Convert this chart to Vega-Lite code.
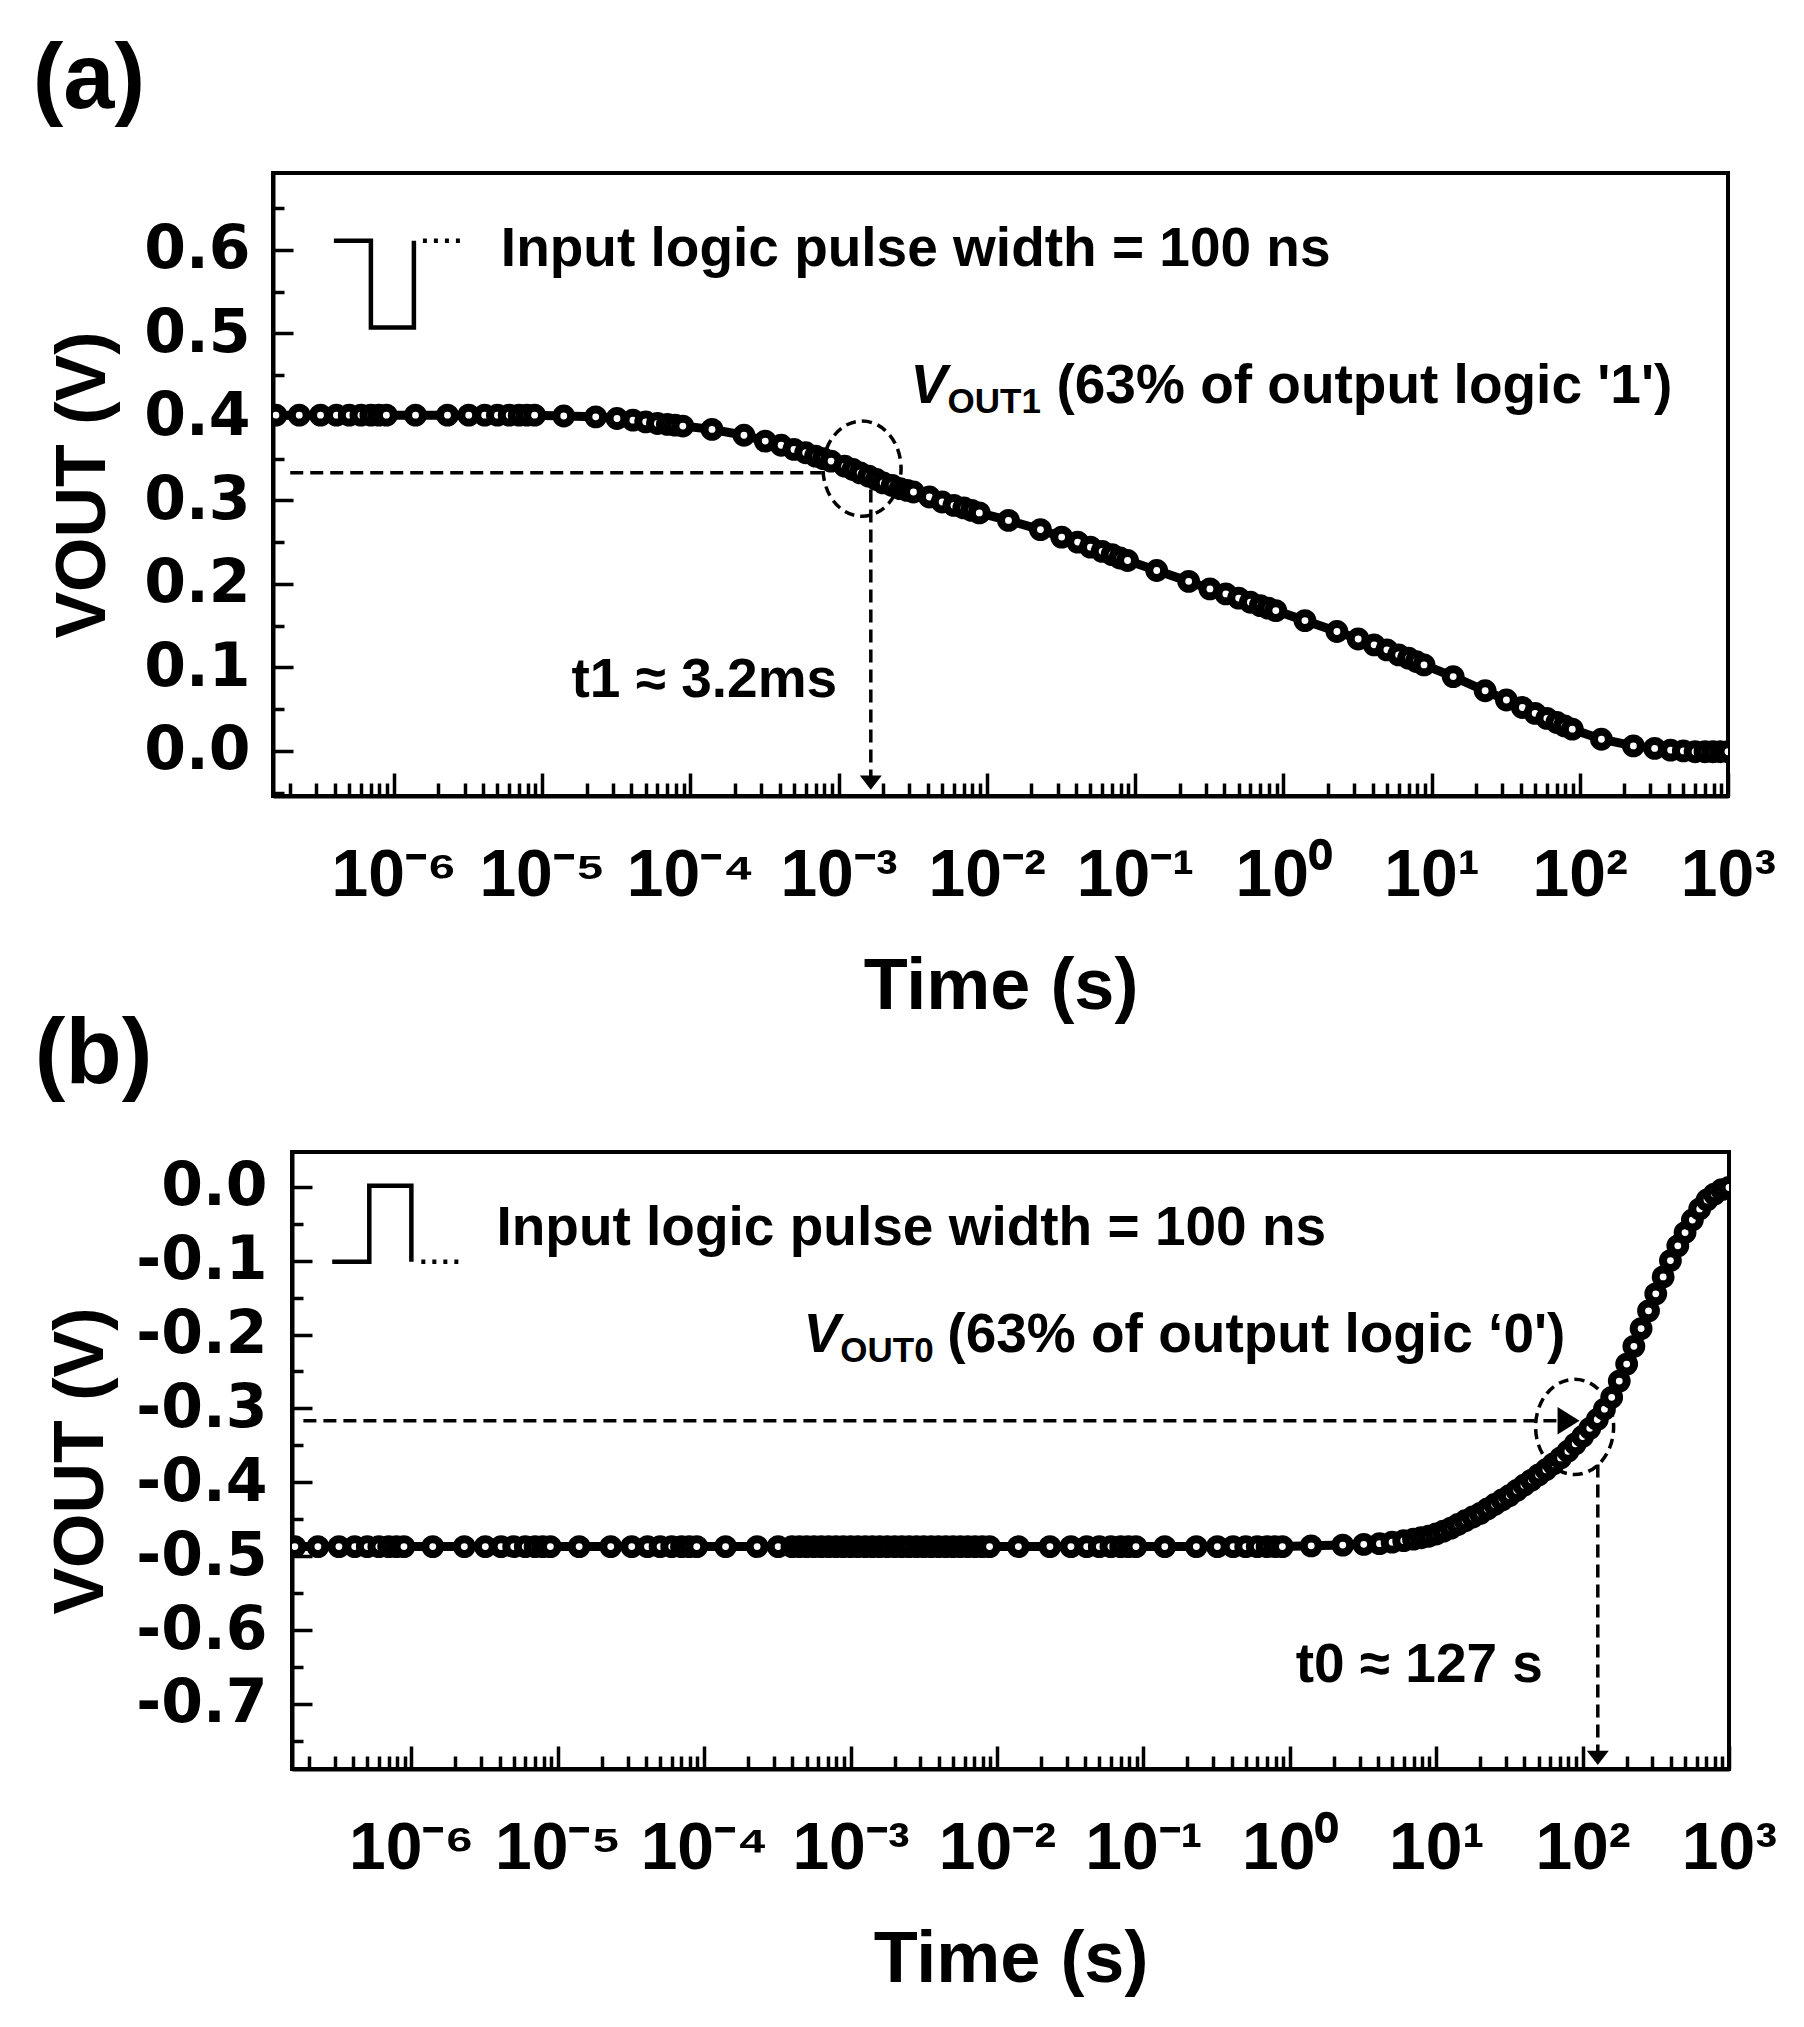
{
  "$schema": "https://vega.github.io/schema/vega-lite/v6.json",
  "background": "white",
  "padding": {"left": 23, "top": 32, "right": 5, "bottom": 5},
  "config": {
    "view": {"stroke": "black", "strokeWidth": 4},
    "font": "Liberation Sans",
    "axis": {
      "grid": false,
      "domainColor": "black",
      "domainWidth": 4,
      "tickColor": "black",
      "tickWidth": 3.5,
      "labelColor": "black",
      "labelFont": "DejaVu Sans",
      "labelFontWeight": "bold",
      "titleColor": "black",
      "titleFont": "Liberation Sans",
      "titleFontWeight": "bold",
      "labelOverlap": false,
      "labelFlush": false
    }
  },
  "datasets": {
    "curveA": [
      {"t": 1.6e-7, "v": 0.402}, {"t": 2.3e-7, "v": 0.402}, {"t": 3.2e-7, "v": 0.402}, {"t": 4.1e-7, "v": 0.402}, {"t": 5e-7, "v": 0.402}, {"t": 6e-7, "v": 0.402}, {"t": 7e-7, "v": 0.402}, {"t": 7.9e-7, "v": 0.402}, {"t": 8.9e-7, "v": 0.402},
      {"t": 1.4e-6, "v": 0.402}, {"t": 2.3e-6, "v": 0.402}, {"t": 3.2e-6, "v": 0.402}, {"t": 4.1e-6, "v": 0.402}, {"t": 5e-6, "v": 0.402}, {"t": 6e-6, "v": 0.402}, {"t": 7e-6, "v": 0.402}, {"t": 7.9e-6, "v": 0.402}, {"t": 8.9e-6, "v": 0.402},
      {"t": 1.4e-5, "v": 0.401}, {"t": 2.3e-5, "v": 0.4}, {"t": 3.2e-5, "v": 0.398}, {"t": 4.1e-5, "v": 0.396}, {"t": 5e-5, "v": 0.394}, {"t": 6e-5, "v": 0.392}, {"t": 7e-5, "v": 0.391}, {"t": 7.9e-5, "v": 0.39}, {"t": 8.9e-5, "v": 0.389},
      {"t": 1.4e-4, "v": 0.385}, {"t": 2.3e-4, "v": 0.378}, {"t": 3.2e-4, "v": 0.371}, {"t": 4.1e-4, "v": 0.366}, {"t": 5e-4, "v": 0.361}, {"t": 6e-4, "v": 0.357}, {"t": 7e-4, "v": 0.353}, {"t": 7.9e-4, "v": 0.35}, {"t": 8.9e-4, "v": 0.347},
      {"t": 1.1e-3, "v": 0.341}, {"t": 1.25e-3, "v": 0.337}, {"t": 1.4e-3, "v": 0.333}, {"t": 1.6e-3, "v": 0.329}, {"t": 1.8e-3, "v": 0.325}, {"t": 2.0e-3, "v": 0.321}, {"t": 2.3e-3, "v": 0.318}, {"t": 2.6e-3, "v": 0.314}, {"t": 2.9e-3, "v": 0.312}, {"t": 3.2e-3, "v": 0.31}, {"t": 4.1e-3, "v": 0.304}, {"t": 5e-3, "v": 0.298}, {"t": 6e-3, "v": 0.294}, {"t": 7e-3, "v": 0.291}, {"t": 7.9e-3, "v": 0.288}, {"t": 8.9e-3, "v": 0.285},
      {"t": 0.014, "v": 0.276}, {"t": 0.023, "v": 0.265}, {"t": 0.032, "v": 0.256}, {"t": 0.041, "v": 0.25}, {"t": 0.05, "v": 0.244}, {"t": 0.06, "v": 0.239}, {"t": 0.07, "v": 0.235}, {"t": 0.079, "v": 0.231}, {"t": 0.089, "v": 0.228},
      {"t": 0.14, "v": 0.216}, {"t": 0.23, "v": 0.203}, {"t": 0.32, "v": 0.194}, {"t": 0.41, "v": 0.188}, {"t": 0.5, "v": 0.183}, {"t": 0.6, "v": 0.178}, {"t": 0.7, "v": 0.174}, {"t": 0.79, "v": 0.171}, {"t": 0.89, "v": 0.168},
      {"t": 1.4, "v": 0.156}, {"t": 2.3, "v": 0.143}, {"t": 3.2, "v": 0.134}, {"t": 4.1, "v": 0.127}, {"t": 5, "v": 0.121}, {"t": 6, "v": 0.115}, {"t": 7, "v": 0.111}, {"t": 7.9, "v": 0.107}, {"t": 8.9, "v": 0.103},
      {"t": 14, "v": 0.089}, {"t": 23, "v": 0.072}, {"t": 32, "v": 0.061}, {"t": 41, "v": 0.052}, {"t": 50, "v": 0.045}, {"t": 60, "v": 0.039}, {"t": 70, "v": 0.034}, {"t": 79, "v": 0.03}, {"t": 89, "v": 0.026},
      {"t": 140, "v": 0.014}, {"t": 230, "v": 0.006}, {"t": 320, "v": 0.003}, {"t": 410, "v": 0.001}, {"t": 500, "v": 0.0}, {"t": 600, "v": -0.001}, {"t": 700, "v": -0.001}, {"t": 790, "v": -0.001}, {"t": 890, "v": -0.001}, {"t": 1000, "v": -0.001}
    ],
    "curveB": [
      {"t": 1.6e-7, "v": -0.487}, {"t": 2.3e-7, "v": -0.487}, {"t": 3.2e-7, "v": -0.487}, {"t": 4.1e-7, "v": -0.487}, {"t": 5e-7, "v": -0.487}, {"t": 6e-7, "v": -0.487}, {"t": 7e-7, "v": -0.487}, {"t": 7.9e-7, "v": -0.487}, {"t": 8.9e-7, "v": -0.487},
      {"t": 1.4e-6, "v": -0.487}, {"t": 2.3e-6, "v": -0.487}, {"t": 3.2e-6, "v": -0.487}, {"t": 4.1e-6, "v": -0.487}, {"t": 5e-6, "v": -0.487}, {"t": 6e-6, "v": -0.487}, {"t": 7e-6, "v": -0.487}, {"t": 7.9e-6, "v": -0.487}, {"t": 8.9e-6, "v": -0.487},
      {"t": 1.4e-5, "v": -0.487}, {"t": 2.3e-5, "v": -0.487}, {"t": 3.2e-5, "v": -0.487}, {"t": 4.1e-5, "v": -0.487}, {"t": 5e-5, "v": -0.487}, {"t": 6e-5, "v": -0.487}, {"t": 7e-5, "v": -0.487}, {"t": 7.9e-5, "v": -0.487}, {"t": 8.9e-5, "v": -0.487},
      {"t": 1.4e-4, "v": -0.487}, {"t": 2.3e-4, "v": -0.487}, {"t": 3.2e-4, "v": -0.487}, {"t": 3.98e-4, "v": -0.487}, {"t": 4.47e-4, "v": -0.487}, {"t": 5.01e-4, "v": -0.487}, {"t": 5.62e-4, "v": -0.487}, {"t": 6.31e-4, "v": -0.487}, {"t": 7.08e-4, "v": -0.487}, {"t": 7.94e-4, "v": -0.487}, {"t": 8.91e-4, "v": -0.487},
      {"t": 1.0e-3, "v": -0.487}, {"t": 1.12e-3, "v": -0.487}, {"t": 1.26e-3, "v": -0.487}, {"t": 1.41e-3, "v": -0.487}, {"t": 1.58e-3, "v": -0.487}, {"t": 1.78e-3, "v": -0.487}, {"t": 2.0e-3, "v": -0.487}, {"t": 2.24e-3, "v": -0.487}, {"t": 2.51e-3, "v": -0.487}, {"t": 2.82e-3, "v": -0.487}, {"t": 3.16e-3, "v": -0.487}, {"t": 3.55e-3, "v": -0.487}, {"t": 3.98e-3, "v": -0.487}, {"t": 4.47e-3, "v": -0.487}, {"t": 5.01e-3, "v": -0.487}, {"t": 5.62e-3, "v": -0.487}, {"t": 6.31e-3, "v": -0.487}, {"t": 7.08e-3, "v": -0.487}, {"t": 7.94e-3, "v": -0.487}, {"t": 8.9e-3, "v": -0.487},
      {"t": 0.014, "v": -0.487}, {"t": 0.023, "v": -0.487}, {"t": 0.032, "v": -0.487}, {"t": 0.041, "v": -0.487}, {"t": 0.05, "v": -0.487}, {"t": 0.06, "v": -0.487}, {"t": 0.07, "v": -0.487}, {"t": 0.079, "v": -0.487}, {"t": 0.089, "v": -0.487},
      {"t": 0.14, "v": -0.487}, {"t": 0.23, "v": -0.487}, {"t": 0.32, "v": -0.487}, {"t": 0.41, "v": -0.487}, {"t": 0.5, "v": -0.487}, {"t": 0.6, "v": -0.487}, {"t": 0.7, "v": -0.487}, {"t": 0.79, "v": -0.487}, {"t": 0.89, "v": -0.487},
      {"t": 1.4, "v": -0.486}, {"t": 2.3, "v": -0.485}, {"t": 3.2, "v": -0.484}, {"t": 4.1, "v": -0.483}, {"t": 5, "v": -0.481}, {"t": 6, "v": -0.479}, {"t": 7, "v": -0.477}, {"t": 7.9, "v": -0.475}, {"t": 8.9, "v": -0.473},
      {"t": 10, "v": -0.47}, {"t": 11.2, "v": -0.466}, {"t": 12.6, "v": -0.462}, {"t": 14.1, "v": -0.457}, {"t": 15.8, "v": -0.452}, {"t": 17.8, "v": -0.447}, {"t": 20, "v": -0.442}, {"t": 22.4, "v": -0.436}, {"t": 25.1, "v": -0.43}, {"t": 28.2, "v": -0.424}, {"t": 31.6, "v": -0.418}, {"t": 35.5, "v": -0.411}, {"t": 39.8, "v": -0.404}, {"t": 44.7, "v": -0.397}, {"t": 50.1, "v": -0.39}, {"t": 56.2, "v": -0.383}, {"t": 63.1, "v": -0.375}, {"t": 70.8, "v": -0.367}, {"t": 79.4, "v": -0.358}, {"t": 89.1, "v": -0.348},
      {"t": 100, "v": -0.338}, {"t": 112, "v": -0.327}, {"t": 126, "v": -0.315}, {"t": 141, "v": -0.301}, {"t": 158, "v": -0.285}, {"t": 178, "v": -0.263}, {"t": 200, "v": -0.24}, {"t": 224, "v": -0.216}, {"t": 251, "v": -0.192}, {"t": 282, "v": -0.168}, {"t": 316, "v": -0.145}, {"t": 355, "v": -0.122}, {"t": 398, "v": -0.1}, {"t": 447, "v": -0.08}, {"t": 501, "v": -0.062}, {"t": 562, "v": -0.045}, {"t": 631, "v": -0.03}, {"t": 708, "v": -0.018}, {"t": 794, "v": -0.01}, {"t": 891, "v": -0.004}, {"t": 1000, "v": -0.001}
    ],
    "pulseA": [{"i": 1, "t": 3.94e-7, "v": 0.611}, {"i": 2, "t": 7.0e-7, "v": 0.611}, {"i": 3, "t": 7.0e-7, "v": 0.507}, {"i": 4, "t": 1.365e-6, "v": 0.507}, {"i": 5, "t": 1.365e-6, "v": 0.611}],
    "dotsA": [{"t": 1.57e-6, "v": 0.611}, {"t": 3.05e-6, "v": 0.611}],
    "pulseB": [{"i": 1, "t": 2.88e-7, "v": -0.1015}, {"i": 2, "t": 5.16e-7, "v": -0.1015}, {"i": 3, "t": 5.16e-7, "v": 0.0014}, {"i": 4, "t": 1.0e-6, "v": 0.0014}, {"i": 5, "t": 1.0e-6, "v": -0.1015}],
    "dotsB": [{"t": 1.17e-6, "v": -0.1015}, {"t": 2.3e-6, "v": -0.1015}],
    "hlineA": [{"t": 2.0e-7, "t2": 7.7e-4, "v": 0.333}],
    "vlineA": [{"t": 1.65e-3, "v": 0.313, "v2": -0.032}],
    "headA": [{"t": 1.65e-3, "v": -0.038}],
    "ringA": [{"t": 1.44e-3, "v": 0.338}],
    "hlineB": [{"t": 1.83e-7, "t2": 78, "v": -0.3166}],
    "headBh": [{"t": 80.2, "v": -0.3166}],
    "vlineB": [{"t": 127, "v": -0.376, "v2": -0.765}],
    "headBv": [{"t": 127, "v": -0.773}],
    "ringB": [{"t": 88.2, "v": -0.325}],
    "textA": [
      {"t": 5.27e-6, "v": 0.581, "label": "Input logic pulse width = 100 ns"},
      {"t": 0.0295, "v": 0.417, "label": "(63% of output logic '1')"},
      {"t": 1.58e-5, "v": 0.064, "label": "t1 ≈ 3.2ms"}
    ],
    "vA": [{"t": 3.06e-3, "v": 0.417, "label": "V"}],
    "subA": [{"t": 5.43e-3, "v": 0.405, "label": "OUT1"}],
    "textB": [
      {"t": 3.81e-6, "v": -0.0785, "label": "Input logic pulse width = 100 ns"},
      {"t": 4.58e-3, "v": -0.2233, "label": "(63% of output logic ‘0')"},
      {"t": 1.097, "v": -0.67, "label": "t0 ≈ 127 s"}
    ],
    "vB": [{"t": 4.76e-4, "v": -0.2233, "label": "V"}],
    "subB": [{"t": 8.51e-4, "v": -0.237, "label": "OUT0"}]
  },
  "vconcat": [
    {
      "spacing": 0,
      "hconcat": [
        {"width": 1, "height": 1, "view": {"stroke": null}, "data": {"values": [{"s": 0}]}, "mark": {"type": "point", "opacity": 0}},
        {
          "title": {"text": "(a)", "anchor": "start", "frame": "bounds", "fontSize": 92, "fontWeight": "bold", "font": "Liberation Sans", "color": "black", "offset": 46, "dx": -16},
          "width": 1455,
          "height": 623,
          "encoding": {
            "x": {"field": "t", "type": "quantitative",
              "scale": {"type": "log", "domain": [1.53e-7, 1000], "nice": false},
              "axis": {
                "title": "Time (s)", "titleFontSize": 72, "titlePadding": 33,
                "values": [2e-7,3e-7,4e-7,5e-7,6e-7,7e-7,8e-7,9e-7,1e-6,2e-6,3e-6,4e-6,5e-6,6e-6,7e-6,8e-6,9e-6,1e-5,2e-5,3e-5,4e-5,5e-5,6e-5,7e-5,8e-5,9e-5,0.0001,0.0002,0.0003,0.0004,0.0005,0.0006,0.0007,0.0008,0.0009,0.001,0.002,0.003,0.004,0.005,0.006,0.007,0.008,0.009,0.01,0.02,0.03,0.04,0.05,0.06,0.07,0.08,0.09,0.1,0.2,0.3,0.4,0.5,0.6,0.7,0.8,0.9,1,2,3,4,5,6,7,8,9,10,20,30,40,50,60,70,80,90,100,200,300,400,500,600,700,800,900,1000],
                "labelExpr": "abs(log(datum.value)/LN10 - round(log(datum.value)/LN10)) < 0.01 ? '10' + (round(log(datum.value)/LN10) < 0 ? '⁻' : '') + ['⁰','¹','²','³','⁴','⁵','⁶','⁷','⁸','⁹'][abs(round(log(datum.value)/LN10))] : ''",
                "tickSize": {"condition": {"test": "abs(log(datum.value)/LN10 - round(log(datum.value)/LN10)) < 0.01", "value": -23}, "value": -13},
                "labelPadding": 70, "labelFontSize": 66, "labelFont": "Liberation Sans"
              }
            },
            "y": {"field": "v", "type": "quantitative",
              "scale": {"domain": [-0.054, 0.692], "nice": false, "zero": false},
              "axis": {
                "title": "VOUT (V)", "titleFontSize": 70, "titlePadding": 24,
                "values": [-0.05, 0, 0.05, 0.1, 0.15, 0.2, 0.25, 0.3, 0.35, 0.4, 0.45, 0.5, 0.55, 0.6, 0.65],
                "labelExpr": "abs(datum.value*10 - round(datum.value*10)) < 0.01 ? replace(format(datum.value, '.1f'), '−', '-') : ''",
                "tickSize": {"condition": {"test": "abs(datum.value*10 - round(datum.value*10)) < 0.01", "value": -20}, "value": -11},
                "labelPadding": 43, "labelFontSize": 60
              }
            }
          },
          "layer": [
            {"data": {"name": "curveA"}, "mark": {"type": "line", "color": "black", "strokeWidth": 9, "clip": true}},
            {"data": {"name": "curveA"}, "mark": {"type": "point", "shape": "circle", "filled": true, "fill": "white", "stroke": "black", "strokeWidth": 8, "size": 220, "opacity": 1, "clip": true}},
            {"data": {"name": "pulseA"}, "mark": {"type": "line", "color": "black", "strokeWidth": 4.5}, "encoding": {"order": {"field": "i", "type": "quantitative"}}},
            {"data": {"name": "dotsA"}, "mark": {"type": "line", "color": "black", "strokeWidth": 4.5, "strokeDash": [4, 7]}},
            {"data": {"name": "hlineA"}, "mark": {"type": "rule", "color": "black", "strokeWidth": 3.5, "strokeDash": [13, 7]}, "encoding": {"x2": {"field": "t2"}}},
            {"data": {"name": "vlineA"}, "mark": {"type": "rule", "color": "black", "strokeWidth": 3.5, "strokeDash": [13, 7]}, "encoding": {"y2": {"field": "v2"}}},
            {"data": {"name": "headA"}, "mark": {"type": "point", "shape": "M0,0.65L1,-0.65L-1,-0.65Z", "filled": true, "color": "black", "size": 480, "opacity": 1}},
            {"data": {"name": "ringA"}, "mark": {"type": "point", "shape": "M0,-1.22A1,1.22,0,1,1,0,1.22A1,1.22,0,1,1,0,-1.22Z", "filled": false, "stroke": "black", "strokeWidth": 3.5, "strokeDash": [10, 6], "size": 6084, "opacity": 1}},
            {"data": {"name": "textA"}, "mark": {"type": "text", "align": "left", "baseline": "alphabetic", "font": "Liberation Sans", "fontWeight": "bold", "fontSize": 55, "color": "black"}, "encoding": {"text": {"field": "label"}}},
            {"data": {"name": "vA"}, "mark": {"type": "text", "align": "left", "baseline": "alphabetic", "font": "Liberation Sans", "fontWeight": "bold", "fontStyle": "italic", "fontSize": 55, "color": "black"}, "encoding": {"text": {"field": "label"}}},
            {"data": {"name": "subA"}, "mark": {"type": "text", "align": "left", "baseline": "alphabetic", "font": "Liberation Sans", "fontWeight": "bold", "fontSize": 35, "color": "black"}, "encoding": {"text": {"field": "label"}}}
          ]
        }
      ]
    },
    {
      "spacing": 0,
      "hconcat": [
        {"width": 5, "height": 1, "view": {"stroke": null}, "data": {"values": [{"s": 0}]}, "mark": {"type": "point", "opacity": 0}},
        {
          "title": {"text": "(b)", "anchor": "start", "frame": "bounds", "fontSize": 92, "fontWeight": "bold", "font": "Liberation Sans", "color": "black", "offset": 50, "dx": -12},
          "width": 1437,
          "height": 617,
          "encoding": {
            "x": {"field": "t", "type": "quantitative",
              "scale": {"type": "log", "domain": [1.53e-7, 1000], "nice": false},
              "axis": {
                "title": "Time (s)", "titleFontSize": 72, "titlePadding": 33,
                "values": [2e-7,3e-7,4e-7,5e-7,6e-7,7e-7,8e-7,9e-7,1e-6,2e-6,3e-6,4e-6,5e-6,6e-6,7e-6,8e-6,9e-6,1e-5,2e-5,3e-5,4e-5,5e-5,6e-5,7e-5,8e-5,9e-5,0.0001,0.0002,0.0003,0.0004,0.0005,0.0006,0.0007,0.0008,0.0009,0.001,0.002,0.003,0.004,0.005,0.006,0.007,0.008,0.009,0.01,0.02,0.03,0.04,0.05,0.06,0.07,0.08,0.09,0.1,0.2,0.3,0.4,0.5,0.6,0.7,0.8,0.9,1,2,3,4,5,6,7,8,9,10,20,30,40,50,60,70,80,90,100,200,300,400,500,600,700,800,900,1000],
                "labelExpr": "abs(log(datum.value)/LN10 - round(log(datum.value)/LN10)) < 0.01 ? '10' + (round(log(datum.value)/LN10) < 0 ? '⁻' : '') + ['⁰','¹','²','³','⁴','⁵','⁶','⁷','⁸','⁹'][abs(round(log(datum.value)/LN10))] : ''",
                "tickSize": {"condition": {"test": "abs(log(datum.value)/LN10 - round(log(datum.value)/LN10)) < 0.01", "value": -23}, "value": -13},
                "labelPadding": 70, "labelFontSize": 66, "labelFont": "Liberation Sans"
              }
            },
            "y": {"field": "v", "type": "quantitative",
              "scale": {"domain": [-0.788, 0.047], "nice": false, "zero": false},
              "axis": {
                "title": "VOUT (V)", "titleFontSize": 70, "titlePadding": 18,
                "values": [-0.75, -0.7, -0.65, -0.6, -0.55, -0.5, -0.45, -0.4, -0.35, -0.3, -0.25, -0.2, -0.15, -0.1, -0.05, 0],
                "labelExpr": "abs(datum.value*10 - round(datum.value*10)) < 0.01 ? replace(format(datum.value, '.1f'), '−', '-') : ''",
                "tickSize": {"condition": {"test": "abs(datum.value*10 - round(datum.value*10)) < 0.01", "value": -20}, "value": -11},
                "labelPadding": 45, "labelFontSize": 60
              }
            }
          },
          "layer": [
            {"data": {"name": "curveB"}, "mark": {"type": "line", "color": "black", "strokeWidth": 9, "clip": true}},
            {"data": {"name": "curveB"}, "mark": {"type": "point", "shape": "circle", "filled": true, "fill": "white", "stroke": "black", "strokeWidth": 8, "size": 220, "opacity": 1, "clip": true}},
            {"data": {"name": "pulseB"}, "mark": {"type": "line", "color": "black", "strokeWidth": 4.5}, "encoding": {"order": {"field": "i", "type": "quantitative"}}},
            {"data": {"name": "dotsB"}, "mark": {"type": "line", "color": "black", "strokeWidth": 4.5, "strokeDash": [4, 7]}},
            {"data": {"name": "hlineB"}, "mark": {"type": "rule", "color": "black", "strokeWidth": 3.5, "strokeDash": [13, 7]}, "encoding": {"x2": {"field": "t2"}}},
            {"data": {"name": "headBh"}, "mark": {"type": "point", "shape": "M0.8,0L-0.8,-1L-0.8,1Z", "filled": true, "color": "black", "size": 756, "opacity": 1}},
            {"data": {"name": "vlineB"}, "mark": {"type": "rule", "color": "black", "strokeWidth": 3.5, "strokeDash": [13, 7]}, "encoding": {"y2": {"field": "v2"}}},
            {"data": {"name": "headBv"}, "mark": {"type": "point", "shape": "M0,0.65L1,-0.65L-1,-0.65Z", "filled": true, "color": "black", "size": 480, "opacity": 1}},
            {"data": {"name": "ringB"}, "mark": {"type": "point", "shape": "M0,-1.22A1,1.22,0,1,1,0,1.22A1,1.22,0,1,1,0,-1.22Z", "filled": false, "stroke": "black", "strokeWidth": 3.5, "strokeDash": [10, 6], "size": 6084, "opacity": 1}},
            {"data": {"name": "textB"}, "mark": {"type": "text", "align": "left", "baseline": "alphabetic", "font": "Liberation Sans", "fontWeight": "bold", "fontSize": 55, "color": "black"}, "encoding": {"text": {"field": "label"}}},
            {"data": {"name": "vB"}, "mark": {"type": "text", "align": "left", "baseline": "alphabetic", "font": "Liberation Sans", "fontWeight": "bold", "fontStyle": "italic", "fontSize": 55, "color": "black"}, "encoding": {"text": {"field": "label"}}},
            {"data": {"name": "subB"}, "mark": {"type": "text", "align": "left", "baseline": "alphabetic", "font": "Liberation Sans", "fontWeight": "bold", "fontSize": 35, "color": "black"}, "encoding": {"text": {"field": "label"}}}
          ]
        }
      ]
    }
  ],
  "spacing": -17
}
